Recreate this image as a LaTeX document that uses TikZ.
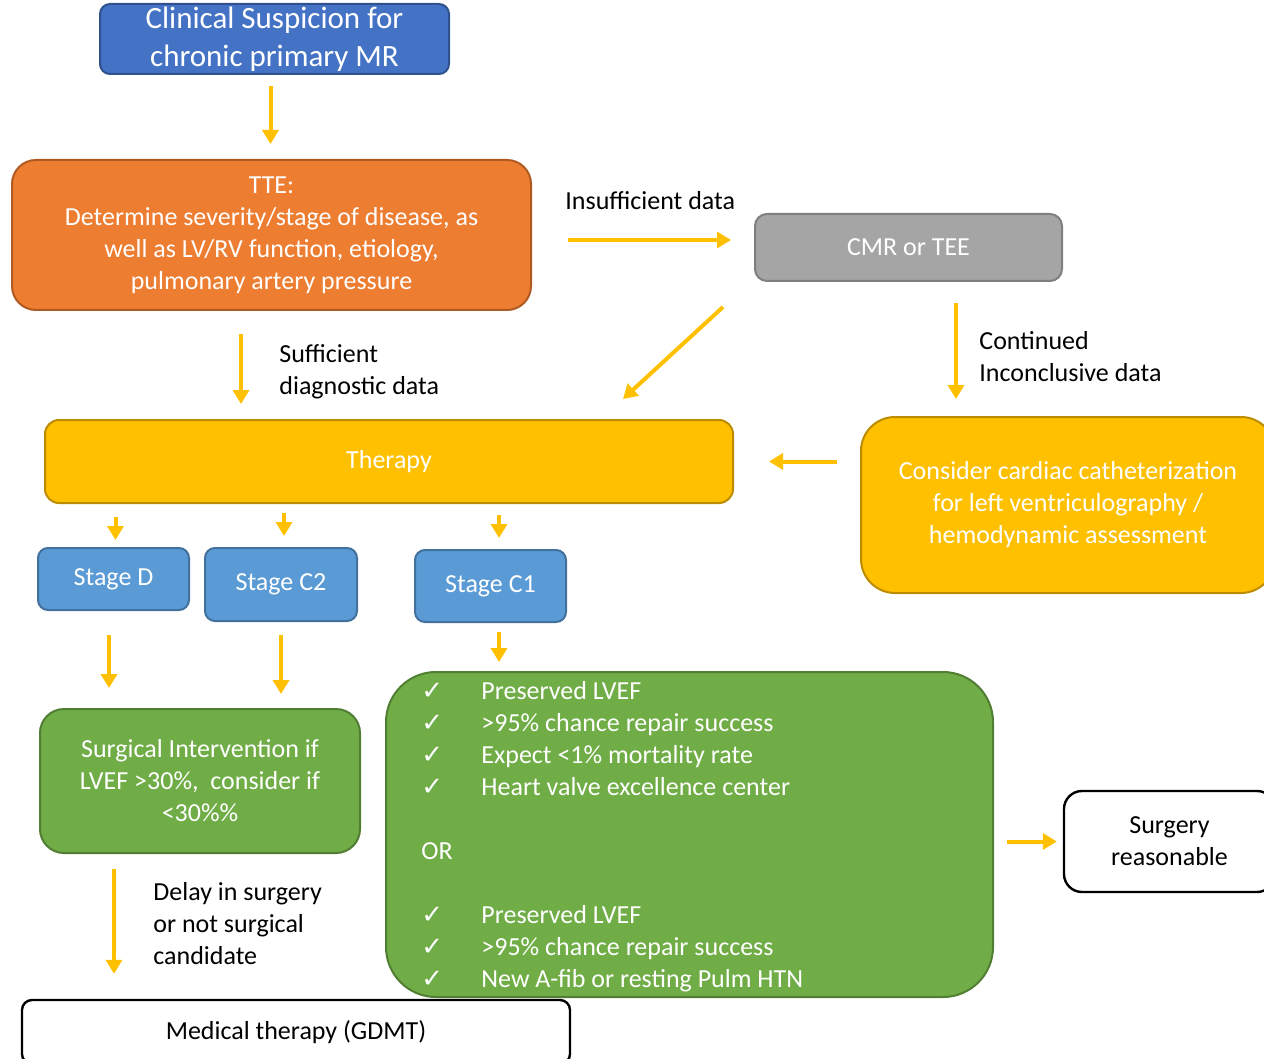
\documentclass[tikz,border=0pt]{standalone}
\usepackage{fontspec}
\setmainfont{Carlito}
\newfontfamily\checkfont{DejaVu Sans}
\usepackage{xcolor}
\usetikzlibrary{arrows.meta}
\usetikzlibrary{positioning}

\definecolor{mrblue}{HTML}{4472C4}
\definecolor{mrblueline}{HTML}{2F528F}
\definecolor{tteorange}{HTML}{ED7D31}
\definecolor{tteline}{HTML}{AE5A21}
\definecolor{cmrgray}{HTML}{A5A5A5}
\definecolor{cmrline}{HTML}{7F7F7F}
\definecolor{thyellow}{HTML}{FFC000}
\definecolor{thline}{HTML}{BC8C00}
\definecolor{stageblue}{HTML}{5B9BD5}
\definecolor{stageline}{HTML}{41719C}
\definecolor{surggreen}{HTML}{70AD47}
\definecolor{surgline}{HTML}{507E32}

\newcommand{\chk}{{\checkfont ✓}}
\newcommand{\txt}{\fontsize{13}{16}\selectfont}

\tikzset{
  box/.style={draw, rounded corners=#1, inner sep=0pt, align=center,
    text=white, line width=1pt, font=\txt},
  box/.default=6pt,
  arr/.style={draw=thyellow, line width=2pt, -{Triangle[width=8pt,length=7pt]}},
  lbl/.style={anchor=west, align=left, inner sep=0pt, font=\txt},
}

\begin{document}
\begin{tikzpicture}[x=0.5pt, y=-0.5pt]
  \useasboundingbox (0,0) rectangle (1264,1059);

  % boxes
  \node[box=5pt, fill=mrblue, draw=mrblueline, minimum width=174.5pt, minimum height=35pt,
        font=\fontsize{15.5}{19}\selectfont] (clin) at (274.5,39)
        {Clinical Suspicion for\\chronic primary MR};
  \node[box=12pt, fill=tteorange, draw=tteline, minimum width=259.5pt, minimum height=75pt] (tte) at (271.5,235)
        {TTE:\\Determine severity/stage of disease, as\\well as LV/RV function, etiology,\\pulmonary artery pressure};
  \node[box=6pt, fill=cmrgray, draw=cmrline, minimum width=153.5pt, minimum height=33.5pt] (cmr) at (908.5,247.5)
        {CMR or TEE};
  \node[box=7pt, fill=thyellow, draw=thline, minimum width=344pt, minimum height=41.5pt] (therapy) at (389,461.5)
        {Therapy};
  \node[box=17pt, fill=thyellow, draw=thline, minimum width=207pt, minimum height=88pt] (consider) at (1068,505)
        {Consider cardiac catheterization\\for left ventriculography /\\hemodynamic assessment};

  \node[box=5pt, fill=stageblue, draw=stageline, minimum width=75.5pt, minimum height=31pt] (sd) at (113.5,579) {Stage D};
  \node[box=5pt, fill=stageblue, draw=stageline, minimum width=76pt, minimum height=36.5pt] (c2) at (281,584.5) {Stage C2};
  \node[box=5pt, fill=stageblue, draw=stageline, minimum width=75.5pt, minimum height=36pt] (c1) at (490.5,586) {Stage C1};

  \node[box=12pt, fill=surggreen, draw=surgline, minimum width=160pt, minimum height=72pt] (surg) at (200,781)
        {Surgical Intervention if\\LVEF >30\%,~ consider if\\<30\%\%};
  \node[box=25pt, fill=surggreen, draw=surgline, minimum width=303.5pt, minimum height=162.5pt] (crit) at (689.5,834.5) {};
  \node[lbl, text=white] (critlist) at ([xshift=18pt,yshift=-1.5pt]crit.west)
        {\begin{tabular}{@{}p{30pt}@{}l@{}}
          \chk & Preserved LVEF\\
          \chk & >95\% chance repair success\\
          \chk & Expect <1\% mortality rate\\
          \chk & Heart valve excellence center\\
               & \\
          OR   & \\
               & \\
          \chk & Preserved LVEF\\
          \chk & >95\% chance repair success\\
          \chk & New A-fib or resting Pulm HTN
        \end{tabular}};

  \node[box=9pt, fill=white, draw=black, text=black, line width=1.2pt, minimum width=105.5pt, minimum height=50.5pt] (surgok) at (1169.5,841.5)
        {Surgery\\reasonable};
  \node[box=5pt, fill=white, draw=black, text=black, line width=1.2pt, minimum width=274pt, minimum height=32pt] (gdmt) at (296,1032)
        {Medical therapy (GDMT)};

  % connectors
  \draw[arr, shorten <=5.5pt, shorten >=7.5pt] ([xshift=-2pt]clin.south) -- ([xshift=-2pt]clin.south |- tte.north);
  \draw[arr, shorten <=18pt, shorten >=11.5pt] (tte.east |- 0,240) -- (cmr.west |- 0,240);
  \node[lbl] (insuff) at (565,201) {Insufficient data};
  \draw[arr] ([xshift=-15.5pt,yshift=-12.5pt]cmr.south west) -- ([xshift=-55.5pt,yshift=10pt]therapy.north east);
  \draw[arr, shorten <=10.5pt, shorten >=8.5pt] ([xshift=23.75pt]cmr.south) -- ([xshift=23.75pt]cmr.south |- consider.north);
  \node[lbl] (contd) at (979,357) {Continued\\Inconclusive data};
  \draw[arr, shorten <=11.5pt, shorten >=7.5pt] (241,0 |- tte.south) -- (241,0 |- therapy.north);
  \node[lbl] (suff) at (279,372) {Sufficient\\diagnostic data};
  \draw[arr, shorten <=11.5pt, shorten >=17.5pt] (consider.west |- therapy.east) -- (therapy.east);

  \draw[arr, shorten <=6.5pt, shorten >=3.5pt] ([xshift=1pt]sd.north |- therapy.south) -- ([xshift=1pt]sd.north);
  \draw[arr, shorten <=4.5pt, shorten >=5.5pt] ([xshift=1.5pt]c2.north |- therapy.south) -- ([xshift=1.5pt]c2.north);
  \draw[arr, shorten <=5.5pt, shorten >=5.5pt] ([xshift=4.25pt]c1.north |- therapy.south) -- ([xshift=4.25pt]c1.north);

  \draw[arr, shorten <=12pt, shorten >=10pt] ([xshift=-2.25pt]sd.south) -- ([xshift=-2.25pt]sd.south |- surg.north);
  \draw[arr, shorten <=6.5pt, shorten >=7pt] (c2.south) -- (c2.south |- surg.north);
  \draw[arr, shorten <=4.5pt, shorten >=4.5pt] ([xshift=4.25pt]c1.south) -- ([xshift=4.25pt]c1.south |- crit.north);
  \draw[arr, shorten <=6.5pt, shorten >=3pt] (crit.east |- surgok.west) -- (surgok.west);
  \draw[arr, shorten <=7.5pt, shorten >=12.5pt] (114,0 |- surg.south) -- (114,0 |- gdmt.north);
  \node[lbl] (delay) at (153,924) {Delay in surgery\\or not surgical\\candidate};
\end{tikzpicture}
\end{document}
